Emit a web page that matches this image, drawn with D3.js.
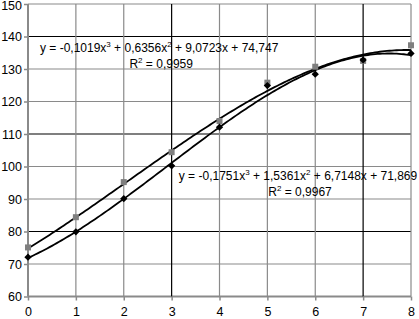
<!DOCTYPE html>
<html>
<head>
<meta charset="utf-8">
<script src="https://cdn.jsdelivr.net/npm/d3@7"></script>
<style>
  body { margin: 0; background: #fff; }
  svg { display: block; font-family: "Liberation Sans", Arial, sans-serif; }
</style>
</head>
<body>
<div id="chart"></div>
<script>
// datos
const xValues = [0, 1, 2, 3, 4, 5, 6, 7, 8];
const serieGris = [75.1, 84.4, 95.2, 104.4, 114.0, 125.8, 130.7, 132.5, 137.3];
const serieNegra = [72.1, 79.9, 90.1, 100.2, 112.1, 124.9, 128.4, 132.8, 134.8];
// coeficientes de las lineas de tendencia (x^3, x^2, x, cte) y R2
const coefGris = [-0.1019, 0.6356, 9.0723, 74.747];
const coefNegra = [-0.1751, 1.5361, 6.7148, 71.869];
const r2Gris = 0.9959;
const r2Negra = 0.9967;
const yTicks = [60, 70, 80, 90, 100, 110, 120, 130, 140, 150];
const xTicks = [0, 1, 2, 3, 4, 5, 6, 7, 8];

const anchoTotal = 419, altoTotal = 319;
const margin = {top: 4, right: 8, bottom: 22.5, left: 28};
const width = anchoTotal - margin.left - margin.right;
const height = altoTotal - margin.top - margin.bottom;

const svg = d3.select("#chart").append("svg")
    .attr("width", anchoTotal)
    .attr("height", altoTotal);

const g = svg.append("g")
    .attr("transform", `translate(${margin.left}, ${margin.top})`);

const x = d3.scaleLinear().domain([0, 8]).range([0, width]);
const y = d3.scaleLinear().domain([60, 150]).range([height, 0]);

// rejilla (en el original algunas lineas salen mas oscuras)
const gridOscuroY = [140, 110, 80];
const gridOscuroX = [3, 7];
const gris = "#8a8a8a";

g.append("g").selectAll("line").data(yTicks).join("line")
    .attr("x1", 0).attr("x2", width)
    .attr("y1", d => y(d)).attr("y2", d => y(d))
    .attr("stroke", d => gridOscuroY.includes(d) ? "#000" : gris)
    .attr("stroke-width", d => d === 60 ? 2 : 1.2);

g.append("g").selectAll("line").data(xTicks).join("line")
    .attr("y1", 0).attr("y2", height)
    .attr("x1", d => x(d)).attr("x2", d => x(d))
    .attr("stroke", d => gridOscuroX.includes(d) ? "#000" : gris)
    .attr("stroke-width", d => d === 0 ? 2 : 1.2);

// ejes
const xAxis = g.append("g")
    .attr("transform", `translate(0, ${height})`)
    .call(d3.axisBottom(x).tickValues(xTicks).tickSize(4).tickPadding(6.5).tickSizeOuter(0));
const yAxis = g.append("g")
    .call(d3.axisLeft(y).tickValues(yTicks).tickSize(4).tickPadding(2).tickSizeOuter(0));

[xAxis, yAxis].forEach(ax => {
  ax.select(".domain").remove();
  ax.selectAll(".tick line").attr("stroke", gris).attr("stroke-width", 1.5);
  ax.selectAll(".tick text")
    .attr("fill", "#000")
    .attr("font-size", "12.5px")
    .attr("font-family", "Liberation Sans, Arial, sans-serif");
});
// que el 150 no quede cortado arriba
yAxis.selectAll(".tick text").filter(d => d === 150).attr("dy", "0.4em");

// lineas de tendencia
const poly = c => t => c[0] * t ** 3 + c[1] * t ** 2 + c[2] * t + c[3];
const muestras = d3.range(0, 8.0001, 0.05);
const linea = d3.line().x(d => x(d[0])).y(d => y(d[1])).curve(d3.curveLinear);

[coefGris, coefNegra].forEach(c => {
  const f = poly(c);
  g.append("path")
    .datum(muestras.map(t => [t, f(t)]))
    .attr("d", linea)
    .attr("fill", "none")
    .attr("stroke", "#000")
    .attr("stroke-width", 1.8);
});

// marcadores
g.append("g").selectAll("rect").data(xValues).join("rect")
    .attr("x", (d) => x(d) - 3)
    .attr("y", (d, i) => y(serieGris[i]) - 3)
    .attr("width", 6).attr("height", 6)
    .attr("fill", "#7f7f7f");

g.append("g").selectAll("path").data(xValues).join("path")
    .attr("d", d3.symbol().type(d3.symbolDiamond2).size(34))
    .attr("transform", (d, i) => `translate(${x(d)}, ${y(serieNegra[i])})`)
    .attr("fill", "#000");

// etiquetas de las ecuaciones
const fmt = v => String(v).replace(".", ",");
function ecuacion(c, r2, cx, cy) {
  const t = g.append("text")
    .attr("x", x(cx)).attr("y", y(cy))
    .attr("text-anchor", "middle")
    .attr("font-size", "12px");
  const signo = v => v < 0 ? " - " + fmt(-v) : " + " + fmt(v);
  t.append("tspan").text("y = " + fmt(c[0]) + "x");
  t.append("tspan").attr("font-size", "8px").attr("dy", -5).text("3");
  t.append("tspan").attr("dy", 5).text(signo(c[1]) + "x");
  t.append("tspan").attr("font-size", "8px").attr("dy", -5).text("2");
  t.append("tspan").attr("dy", 5).text(signo(c[2]) + "x" + signo(c[3]));

  const r = g.append("text")
    .attr("x", x(cx) + 2).attr("y", y(cy) + 16)
    .attr("text-anchor", "middle")
    .attr("font-size", "12px");
  r.append("tspan").text("R");
  r.append("tspan").attr("font-size", "8px").attr("dy", -5).text("2");
  r.append("tspan").attr("dy", 5).text(" = " + fmt(r2));
}

ecuacion(coefGris, r2Gris, 2.74, 135.2);
ecuacion(coefNegra, r2Negra, 5.64, 95.85);
</script>
</body>
</html>
